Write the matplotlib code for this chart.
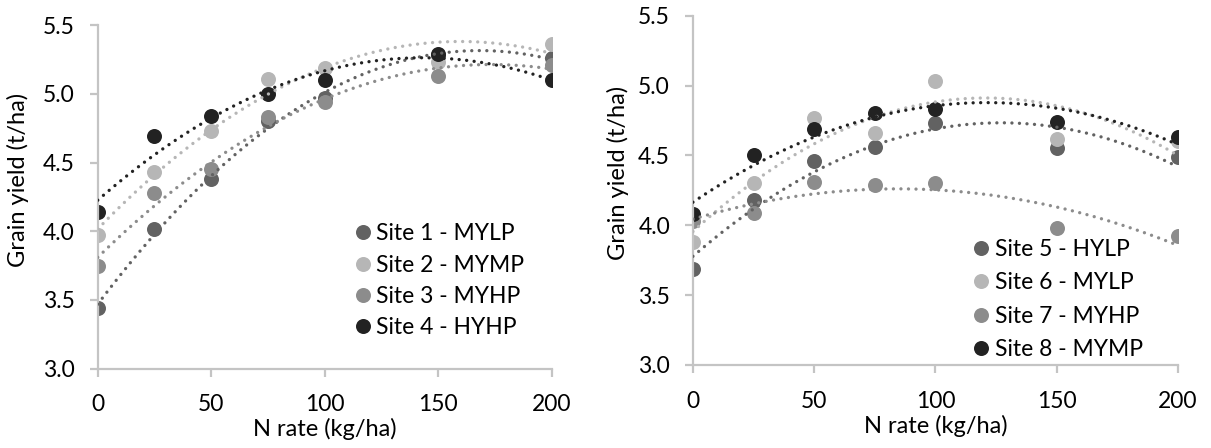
import numpy as np
import matplotlib
matplotlib.use("Agg")
import matplotlib.pyplot as plt

# ---------------------------------------------------------------------------
# Donnees : rendement en grain (t/ha) selon la dose d'azote (kg/ha)
# ---------------------------------------------------------------------------
n_rate = [0, 25, 50, 75, 100, 150, 200]

labels_left = ["Site 1 - MYLP", "Site 2 - MYMP", "Site 3 - MYHP", "Site 4 - HYHP"]
site1 = [3.44, 4.02, 4.38, 4.80, 4.97, 5.28, 5.26]
site2 = [3.97, 4.43, 4.73, 5.11, 5.19, 5.23, 5.36]
site3 = [3.75, 4.28, 4.45, 4.83, 4.94, 5.13, 5.21]
site4 = [4.14, 4.69, 4.84, 5.00, 5.10, 5.29, 5.10]

labels_right = ["Site 5 - HYLP", "Site 6 - MYLP", "Site 7 - MYHP", "Site 8 - MYMP"]
site5 = [3.69, 4.18, 4.46, 4.56, 4.73, 4.55, 4.49]
site6 = [3.88, 4.30, 4.77, 4.66, 5.03, 4.62, 4.60]
site7 = [4.03, 4.09, 4.31, 4.29, 4.30, 3.98, 3.92]
site8 = [4.08, 4.50, 4.69, 4.80, 4.83, 4.74, 4.63]

colors = ["#626262", "#b6b6b6", "#8c8c8c", "#222222"]

plt.rcParams["font.family"] = ["Lato", "DejaVu Sans"]
FS = 16.5
AXIS_GREY = "#c4c4c4"


def draw_panel(ax, series, labels, legend_anchor, spacing):
    x = np.array(n_rate, dtype=float)
    xx = np.linspace(0, 200, 300)
    handles = []
    for ys, col in zip(series, colors):
        h, = ax.plot(x, ys, "o", ms=10.8, color=col, mec="none", zorder=2)
        handles.append(h)
    # courbes de tendance polynomiales d'ordre 2, en pointilles
    for ys, col in zip(series, colors):
        coefs = np.polyfit(x, ys, 2)
        ax.plot(xx, np.polyval(coefs, xx), color=col, lw=2.4,
                dashes=(0.01, 2.25), dash_capstyle="round", zorder=3)

    ax.set_xlim(0, 200)
    ax.set_ylim(3.0, 5.5)
    ax.set_xticks([0, 50, 100, 150, 200])
    ax.set_yticks(np.arange(3.0, 5.51, 0.5))
    ax.yaxis.set_major_formatter(matplotlib.ticker.FormatStrFormatter("%.1f"))
    for side in ["top", "right"]:
        ax.spines[side].set_visible(False)
    for side in ["left", "bottom"]:
        ax.spines[side].set_color(AXIS_GREY)
        ax.spines[side].set_linewidth(1.6)
    ax.tick_params(axis="both", direction="out", length=5.5, width=1.6,
                   color=AXIS_GREY, labelsize=FS, labelcolor="black")
    ax.tick_params(axis="x", pad=13)
    ax.tick_params(axis="y", pad=11)
    ax.set_xlabel("N rate (kg/ha)", fontsize=FS + 0.5, labelpad=2)
    ax.set_ylabel("Grain yield (t/ha)", fontsize=FS + 0.5)

    leg = ax.legend(handles, labels, loc="center left",
                    bbox_to_anchor=legend_anchor, frameon=False,
                    fontsize=FS, handlelength=0.7, handletextpad=0.25,
                    labelspacing=spacing, borderpad=0, borderaxespad=0)
    return leg


fig = plt.figure(figsize=(12.11, 4.48), dpi=100)

ax1 = fig.add_axes([0.0807, 0.177, 0.3749, 0.767])
draw_panel(ax1, [site1, site2, site3, site4], labels_left, (0.566, 0.256), 0.45)
ax1.yaxis.set_label_coords(-0.151, 0.55)

ax2 = fig.add_axes([0.5722, 0.1853, 0.4005, 0.7797])
draw_panel(ax2, [site5, site6, site7, site8], labels_right, (0.577, 0.1875), 0.55)
ax2.yaxis.set_label_coords(-0.132, 0.55)

fig.savefig("out.png", dpi=100, facecolor="white")
